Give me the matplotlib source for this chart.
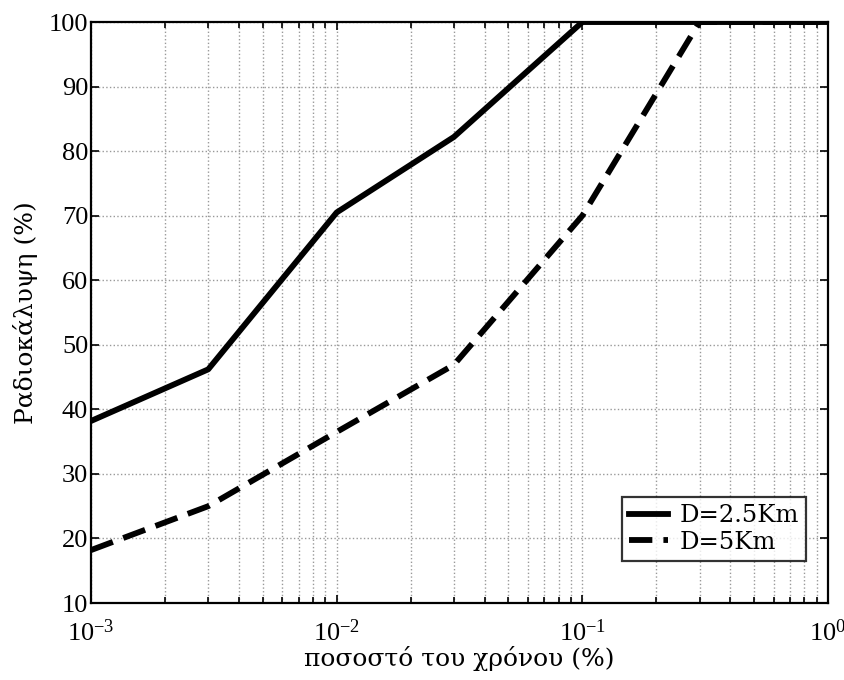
import matplotlib
matplotlib.use('Agg')
import matplotlib.pyplot as plt
from matplotlib.ticker import LogLocator, NullFormatter, MultipleLocator

# ── Data ──
time_pct = [1e-3, 3e-3, 1e-2, 3e-2, 1e-1, 3e-1, 1.0]
cover_25km = [38.2, 46.2, 70.5, 82.2, 100, 100, 100]
cover_5km = [18.2, 25.0, 36.5, 46.9, 70.0, 100, 100]

labels = ['D=2.5Km', 'D=5Km']
xlabel = 'ποσοστό του χρόνου (%)'
ylabel = 'Ραδιοκάλυψη (%)'

plt.rcParams['font.family'] = ['Liberation Serif', 'DejaVu Serif']
plt.rcParams['mathtext.fontset'] = 'custom'
plt.rcParams['mathtext.rm'] = 'Liberation Serif'
plt.rcParams['mathtext.it'] = 'Liberation Serif'
plt.rcParams['axes.unicode_minus'] = False

fig = plt.figure(figsize=(8.45, 6.8), dpi=100)
ax = fig.add_axes([0.1077, 0.1132, 0.8722, 0.8544])

ax.plot(time_pct, cover_25km, color='black', linewidth=4.2,
        solid_joinstyle='round', label=labels[0])
ax.plot(time_pct, cover_5km, color='black', linewidth=4.2,
        linestyle=(0, (4.0, 1.9)), label=labels[1])

ax.set_xscale('log')
ax.set_xlim(1e-3, 1)
ax.set_ylim(10, 100)
ax.yaxis.set_major_locator(MultipleLocator(10))
ax.xaxis.set_major_locator(LogLocator(base=10, numticks=10))
ax.xaxis.set_minor_locator(LogLocator(base=10, subs=range(2, 10), numticks=20))
ax.xaxis.set_minor_formatter(NullFormatter())

ax.grid(True, which='major', linestyle=':', color='#999999', linewidth=1.0)
ax.grid(True, which='minor', axis='x', linestyle=':', color='#999999', linewidth=1.0)

ax.tick_params(which='both', direction='in', top=True, right=True,
               labelsize=19, width=1.2)
ax.tick_params(axis='x', pad=12)
ax.tick_params(axis='y', pad=2)
ax.tick_params(which='major', length=6)
ax.tick_params(which='minor', length=4)
for s in ax.spines.values():
    s.set_linewidth(1.6)

ax.set_xlabel(xlabel, fontsize=18, family='DejaVu Serif', labelpad=0)
ax.set_ylabel(ylabel, fontsize=18, family='DejaVu Serif', labelpad=8)

leg = ax.legend(loc='lower right', bbox_to_anchor=(0.97, 0.072),
                prop={'family': 'DejaVu Serif', 'size': 17.5},
                frameon=True, fancybox=False, edgecolor='black',
                handlelength=1.6, handletextpad=0.45, borderpad=0.3,
                labelspacing=0.15, borderaxespad=0)
leg.get_frame().set_linewidth(1.6)

fig.savefig('out.png', dpi=100)
